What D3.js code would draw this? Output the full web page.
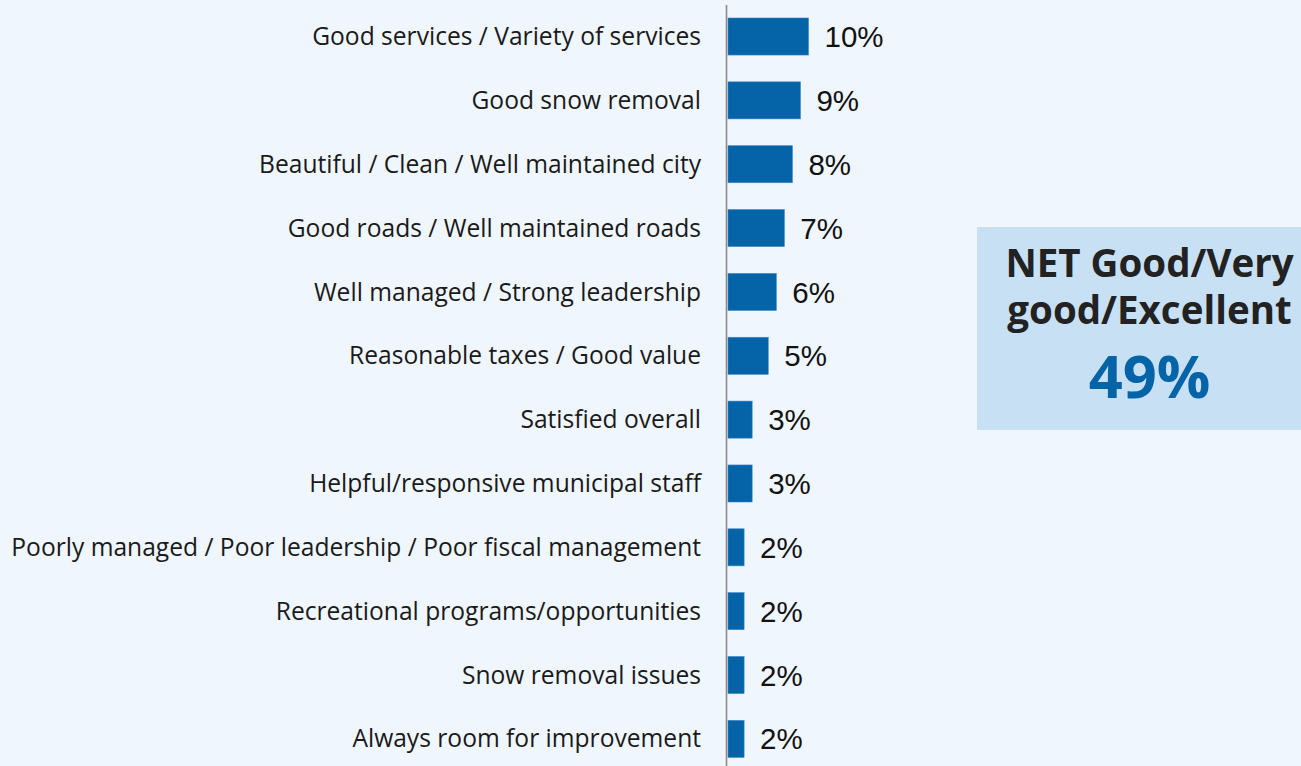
<!DOCTYPE html>
<html>
<head>
<meta charset="utf-8">
<script src="https://cdn.jsdelivr.net/npm/d3@7"></script>
<style>
  html, body { margin: 0; padding: 0; background: #F0F6FD; }
  svg { display: block; }
</style>
</head>
<body>
<svg id="chart" width="1301" height="766"></svg>
<script>
// Reasons mentioned, share of respondents (%)
const categories = [
  "Good services / Variety of services",
  "Good snow removal",
  "Beautiful / Clean / Well maintained city",
  "Good roads / Well maintained roads",
  "Well managed / Strong leadership",
  "Reasonable taxes / Good value",
  "Satisfied overall",
  "Helpful/responsive municipal staff",
  "Poorly managed / Poor leadership / Poor fiscal management",
  "Recreational programs/opportunities",
  "Snow removal issues",
  "Always room for improvement"
];
const values = [10, 9, 8, 7, 6, 5, 3, 3, 2, 2, 2, 2];
const netLines = ["NET Good/Very", "good/Excellent"];
const netValue = 49;

const W = 1301, H = 766;
const svg = d3.select("#chart");

svg.append("rect").attr("width", W).attr("height", H).attr("fill", "#F0F6FD");

const x = d3.scaleLinear().domain([0, 10]).range([728, 808.5]);
const y = d3.scaleBand()
  .domain(categories)
  .range([4.6, 770.8])
  .paddingInner(0.42)
  .paddingOuter(0.21);

const rows = categories.map((c, i) => ({ c, v: values[i] }));

// bars
svg.append("g").selectAll("rect")
  .data(rows)
  .join("rect")
  .attr("x", x(0))
  .attr("y", d => y(d.c))
  .attr("width", d => x(d.v) - x(0))
  .attr("height", y.bandwidth())
  .attr("fill", "#0563A8")
  .attr("stroke", "#3A86C4")
  .attr("stroke-width", 0.6);

// vertical baseline
svg.append("line")
  .attr("x1", 726.5).attr("x2", 726.5)
  .attr("y1", 5).attr("y2", H)
  .attr("stroke", "#8A8A8A")
  .attr("stroke-width", 1.6);

// category labels
svg.append("g").selectAll("text")
  .data(rows)
  .join("text")
  .attr("x", 701)
  .attr("y", d => y(d.c) + y.bandwidth() / 2)
  .attr("dy", "0.35em")
  .attr("text-anchor", "end")
  .attr("font-family", "'Open Sans', 'Noto Sans', sans-serif")
  .attr("font-size", 24.6)
  .attr("fill", "#1a1a1a")
  .text(d => d.c);

// value labels
svg.append("g").selectAll("text")
  .data(rows)
  .join("text")
  .attr("x", d => x(d.v) + 16)
  .attr("y", d => y(d.c) + y.bandwidth() / 2)
  .attr("dy", "0.36em")
  .attr("font-family", "'Liberation Sans', Arial, sans-serif")
  .attr("font-size", 29.5)
  .attr("fill", "#111")
  .text(d => d.v + "%");

// NET summary box
const box = svg.append("g");
box.append("rect")
  .attr("x", 977).attr("y", 227)
  .attr("width", 340).attr("height", 203)
  .attr("fill", "#C8E0F3");
const cx = 1149.5;
box.selectAll("text.net")
  .data(netLines)
  .join("text")
  .attr("class", "net")
  .attr("x", cx)
  .attr("y", (d, i) => 277 + i * 47)
  .attr("text-anchor", "middle")
  .attr("font-family", "'Open Sans', 'Noto Sans', sans-serif")
  .attr("font-weight", 700)
  .attr("font-size", 38.5)
  .attr("fill", "#222")
  .text(d => d);
box.append("text")
  .attr("x", cx)
  .attr("y", 398)
  .attr("text-anchor", "middle")
  .attr("font-family", "'Open Sans', 'Noto Sans', sans-serif")
  .attr("font-weight", 700)
  .attr("font-size", 59.5)
  .attr("fill", "#0563A8")
  .text(netValue + "%");
</script>
</body>
</html>
